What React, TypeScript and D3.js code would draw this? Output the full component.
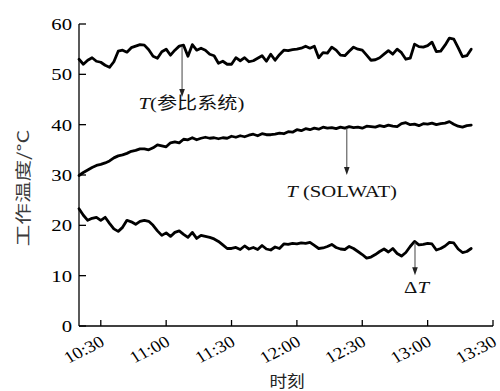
import React from 'react';
import * as d3 from 'd3';

// time in minutes after 10:00, sampled every 2 minutes from 10:20 to 13:20
const timeStart = 20;
const timeStep = 2;

const refSeries = [
  53.0, 52.0, 52.8, 53.3, 52.6, 52.4, 51.8, 51.4, 52.5, 54.6,
  54.8, 54.4, 55.3, 55.6, 55.9, 55.8, 54.9, 53.6, 53.2, 54.5,
  55.0, 53.8, 54.8, 55.6, 55.8, 53.6, 55.9, 54.8, 55.2, 54.8,
  54.0, 53.7, 52.2, 52.6, 52.0, 52.0, 53.3, 52.7, 53.3, 52.5,
  52.7, 53.2, 53.7, 52.6, 54.0, 52.8, 53.9, 54.8, 54.7, 54.9,
  55.0, 55.2, 55.6, 55.2, 55.6, 53.3, 54.3, 54.2, 55.4, 54.8,
  53.8, 53.7, 54.6, 55.4, 55.0, 54.8, 53.8, 52.8, 52.9, 53.3,
  54.0, 54.7, 54.0, 55.0, 54.3, 53.0, 53.2, 56.0, 55.5, 55.4,
  55.7, 56.4, 54.5, 54.6, 55.8, 57.2, 57.0, 55.3, 53.5, 53.7,
  55.0,
];

const solwatSeries = [
  29.9, 30.5, 31.0, 31.5, 31.9, 32.1, 32.4, 32.8, 33.4, 33.8,
  34.0, 34.3, 34.7, 34.9, 35.2, 35.2, 35.0, 35.4, 36.0, 35.8,
  35.6, 36.4, 36.6, 36.4, 37.1, 37.0, 37.4, 37.0, 37.3, 37.5,
  37.3, 37.4, 37.2, 37.4, 37.3, 37.7, 37.5, 37.8, 37.6, 37.9,
  38.1, 37.8, 38.2, 38.0, 38.0, 38.1, 38.3, 38.2, 38.6, 38.5,
  39.0, 38.8, 39.2, 39.0, 39.3, 39.1, 39.5, 39.3, 39.4, 39.2,
  39.5, 39.3, 39.6, 39.4, 39.5, 39.3, 39.7, 39.6, 39.5, 39.8,
  39.6, 39.9, 39.7, 39.6, 40.2, 40.4, 40.0, 40.1, 39.8, 40.2,
  40.1, 40.3, 40.0, 40.2, 40.3, 40.6, 40.1, 39.7, 39.5, 39.8,
  39.9,
];

const deltaSeries = [
  23.3, 22.0, 21.0, 21.4, 21.6, 21.0, 21.6, 20.4, 19.3, 18.8,
  19.6, 21.0, 20.7, 20.2, 20.8, 21.0, 20.8, 20.0, 18.9, 18.0,
  18.5, 17.8, 18.6, 18.9, 18.2, 17.6, 18.6, 17.4, 18.0, 17.8,
  17.6, 17.3, 16.8, 16.1, 15.4, 15.4, 15.6, 15.2, 15.9, 15.3,
  15.6, 15.2, 16.0, 15.3, 15.1, 15.7, 15.4, 16.3, 16.2, 16.4,
  16.3, 16.5, 16.4, 16.6, 16.0, 15.4, 15.5, 15.8, 16.2, 15.6,
  15.3, 15.2, 15.8, 15.4, 14.8, 14.2, 13.5, 13.7, 14.2, 14.8,
  15.3, 14.7, 15.4, 14.4, 13.9, 14.6, 15.8, 16.8, 16.1, 16.2,
  16.4, 16.3, 15.1, 15.4, 15.9, 16.6, 16.5, 15.3, 14.6, 14.8,
  15.4,
];

const yTicks = [0, 10, 20, 30, 40, 50, 60];
const xTickMinutes = [30, 60, 90, 120, 150, 180, 210];
const xTickLabels = ['10:30', '11:00', '11:30', '12:00', '12:30', '13:00', '13:30'];

const annotations = [
  { t: 67.3, from: 55.6, to: 45.5, labelT: 71.6, labelV: 43.2, kind: 'ref' },
  { t: 142.9, from: 39.3, to: 30.0, labelT: 140.5, labelV: 25.6, kind: 'solwat' },
  { t: 174.2, from: 16.6, to: 10.1, labelT: 174.9, labelV: 6.5, kind: 'delta' },
];

const SERIF = '"Liberation Serif", "Times New Roman", Times, serif';
const CJK = '"Noto Sans CJK SC", "Noto Sans CJK JP", sans-serif';
const SX = 1.22;

export default function App() {
  const width = 500;
  const height = 391;
  const x = d3.scaleLinear().domain([20, 210]).range([79, 493]);
  const y = d3.scaleLinear().domain([0, 60]).range([326, 24]);

  const toPts = (vals: number[]) => vals.map((v, i) => [timeStart + i * timeStep, v] as [number, number]);
  const line = d3
    .line<[number, number]>()
    .x((d) => x(d[0]))
    .y((d) => y(d[1]))
    .curve(d3.curveLinear);

  const series = [refSeries, solwatSeries, deltaSeries];

  return (
    <svg
      width={width}
      height={height}
      style={{ position: 'absolute', left: 0, top: 0, background: '#fff' }}
    >
      <rect x={0} y={0} width={width} height={height} fill="#fff" />
      {series.map((s, i) => (
        <path
          key={i}
          d={line(toPts(s)) || ''}
          fill="none"
          stroke="#000"
          strokeWidth={2.8}
          strokeLinejoin="round"
          strokeLinecap="round"
        />
      ))}

      {/* axes */}
      <line x1={x(20)} x2={x(20)} y1={y(60)} y2={y(0)} stroke="#000" strokeWidth={1.3} />
      <line x1={x(20)} x2={x(210)} y1={y(0)} y2={y(0)} stroke="#000" strokeWidth={1.3} />
      {yTicks.map((v) => (
        <g key={v}>
          <line x1={x(20)} x2={x(20) + 7} y1={y(v)} y2={y(v)} stroke="#000" strokeWidth={1.3} />
          <text
            transform={`translate(${x(20) - 7},${y(v) + 6}) scale(${SX},1)`}
            textAnchor="end"
            style={{ fontFamily: SERIF, fontSize: 17 }}
            fill="#000"
          >
            {v}
          </text>
        </g>
      ))}
      {xTickMinutes.map((m, i) => (
        <g key={m}>
          <line x1={x(m)} x2={x(m)} y1={y(0)} y2={y(0) - 6} stroke="#000" strokeWidth={1.3} />
          <text
            transform={`translate(${x(m) + 5},${y(0) + 19}) scale(1.15,1) rotate(-30)`}
            textAnchor="end"
            style={{ fontFamily: SERIF, fontSize: 16.5 }}
            fill="#000"
          >
            {xTickLabels[i]}
          </text>
        </g>
      ))}

      {/* axis titles */}
      <text
        transform={`translate(29,188) rotate(-90) scale(1.35,1)`}
        textAnchor="middle"
        style={{ fontFamily: CJK, fontSize: 16 }}
        fill="#3a3a3a"
      >
        工作温度/°C
      </text>
      <text
        transform={`translate(287,387) scale(1.1,1)`}
        textAnchor="middle"
        style={{ fontFamily: CJK, fontSize: 16 }}
        fill="#222"
      >
        时刻
      </text>

      {/* annotations */}
      {annotations.map((a) => {
        const ax = x(a.t);
        const y1 = y(a.from);
        const y2 = y(a.to);
        return (
          <g key={a.kind}>
            <line x1={ax} x2={ax} y1={y1} y2={y2 - 6} stroke="#555" strokeWidth={1.1} />
            <path d={`M${ax},${y2} L${ax - 2.8},${y2 - 8} L${ax + 2.8},${y2 - 8} Z`} fill="#222" />
            <text
              transform={`translate(${x(a.labelT)},${y(a.labelV)}) scale(${SX},1)`}
              textAnchor="middle"
              style={{ fontFamily: SERIF, fontSize: 17 }}
              fill="#111"
            >
              {a.kind === 'ref' && (
                <>
                  <tspan fontStyle="italic">T</tspan>
                  <tspan>(</tspan>
                  <tspan style={{ fontFamily: CJK, fontSize: 16.5 }}>参比系统</tspan>
                  <tspan>)</tspan>
                </>
              )}
              {a.kind === 'solwat' && (
                <>
                  <tspan fontStyle="italic">T</tspan>
                  <tspan> (SOLWAT)</tspan>
                </>
              )}
              {a.kind === 'delta' && (
                <>
                  <tspan>Δ</tspan>
                  <tspan fontStyle="italic">T</tspan>
                </>
              )}
            </text>
          </g>
        );
      })}
    </svg>
  );
}
